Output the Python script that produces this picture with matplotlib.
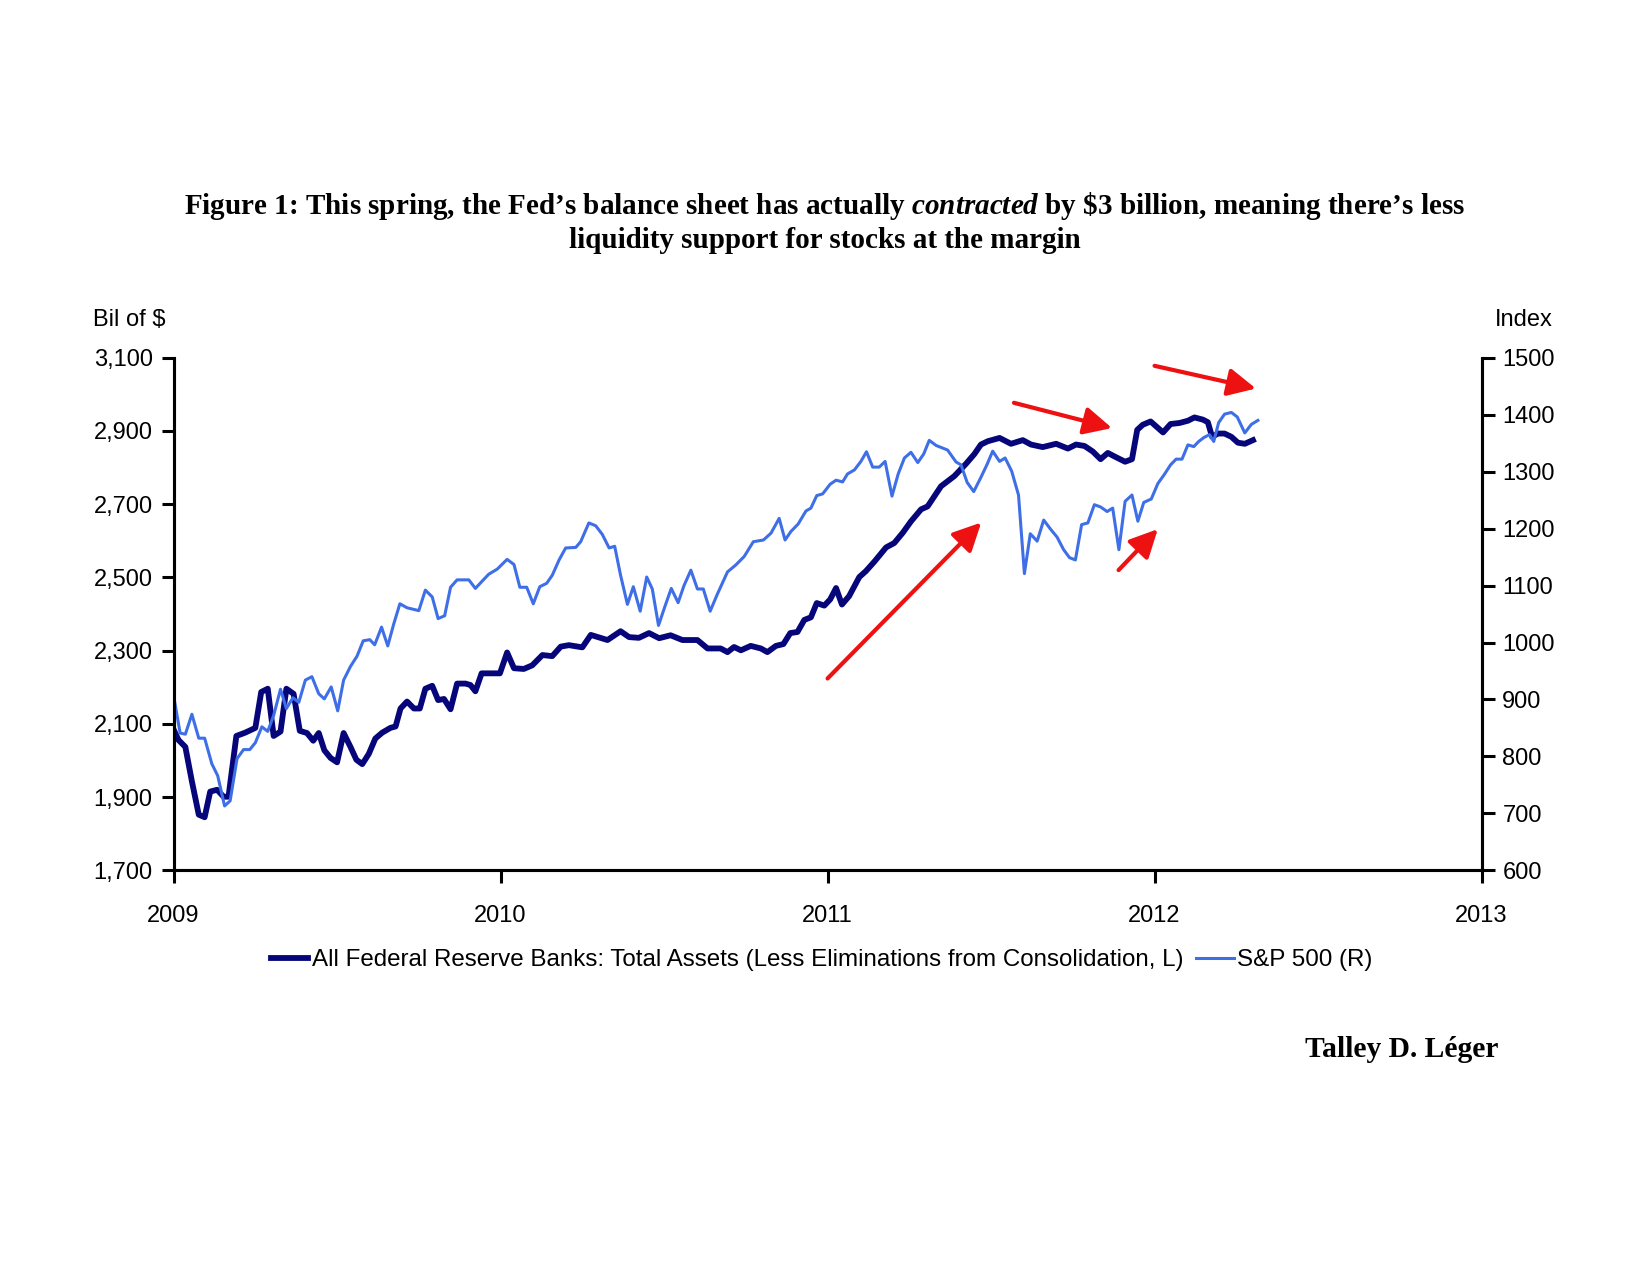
import matplotlib
matplotlib.use("Agg")
import matplotlib.pyplot as plt
from matplotlib.ticker import FuncFormatter

# Fed total assets, bil of $ (x = years after Jan 1 2009)
fed_t = [0.000, 0.015, 0.036, 0.056, 0.077, 0.095, 0.112, 0.133, 0.153, 0.168,
         0.192, 0.219, 0.250, 0.268, 0.288, 0.306, 0.327, 0.345, 0.367, 0.386,
         0.408, 0.427, 0.444, 0.461, 0.480, 0.500, 0.520, 0.541, 0.559, 0.577,
         0.597, 0.617, 0.638, 0.663, 0.679, 0.694, 0.714, 0.735, 0.753, 0.770,
         0.791, 0.809, 0.827, 0.847, 0.867, 0.893, 0.908, 0.923, 0.942, 0.964,
         0.998, 1.020, 1.041, 1.071, 1.097, 1.128, 1.158, 1.184, 1.209, 1.250,
         1.276, 1.327, 1.367, 1.393, 1.423, 1.454, 1.485, 1.520, 1.556, 1.602,
         1.633, 1.673, 1.694, 1.714, 1.735, 1.765, 1.796, 1.816, 1.842, 1.865,
         1.886, 1.908, 1.929, 1.949, 1.967, 1.990, 2.008, 2.026, 2.044, 2.066,
         2.097, 2.117, 2.143, 2.179, 2.204, 2.230, 2.255, 2.286, 2.306, 2.347,
         2.388, 2.423, 2.449, 2.469, 2.490, 2.526, 2.561, 2.597, 2.622, 2.658,
         2.699, 2.735, 2.760, 2.786, 2.811, 2.835, 2.857, 2.883, 2.910, 2.931,
         2.947, 2.964, 2.988, 3.026, 3.049, 3.077, 3.102, 3.122, 3.148, 3.163,
         3.176, 3.194, 3.214, 3.235, 3.255, 3.276, 3.301]
fed_val = [2085, 2056, 2037, 1943, 1852, 1845, 1915, 1920, 1901, 1901,
           2067, 2076, 2089, 2187, 2196, 2067, 2079, 2196, 2182, 2081,
           2075, 2054, 2075, 2028, 2007, 1995, 2075, 2037, 2002, 1990,
           2018, 2060, 2076, 2089, 2093, 2142, 2161, 2142, 2142, 2196,
           2204, 2165, 2168, 2140, 2210, 2210, 2206, 2189, 2238, 2238,
           2238, 2295, 2252, 2250, 2260, 2288, 2285, 2311, 2315, 2309,
           2343, 2329, 2353, 2337, 2335, 2348, 2334, 2342, 2329, 2329,
           2306, 2306, 2296, 2310, 2301, 2313, 2306, 2296, 2313, 2318,
           2348, 2351, 2384, 2391, 2430, 2423, 2440, 2471, 2426, 2449,
           2501, 2517, 2543, 2582, 2594, 2622, 2653, 2686, 2694, 2749,
           2777, 2810, 2837, 2863, 2872, 2881, 2865, 2875, 2863, 2856,
           2865, 2852, 2863, 2859, 2844, 2823, 2840, 2828, 2816, 2823,
           2903, 2917, 2926, 2896, 2919, 2922, 2928, 2937, 2931, 2924,
           2884, 2893, 2893, 2884, 2868, 2865, 2875]

# S&P 500 index
spx_t = [0.000, 0.020, 0.036, 0.056, 0.077, 0.095, 0.117, 0.135, 0.156, 0.173,
         0.194, 0.214, 0.233, 0.250, 0.270, 0.288, 0.306, 0.327, 0.345, 0.365,
         0.383, 0.403, 0.423, 0.444, 0.461, 0.482, 0.502, 0.520, 0.541, 0.561,
         0.580, 0.600, 0.615, 0.636, 0.655, 0.673, 0.692, 0.714, 0.750, 0.770,
         0.791, 0.809, 0.829, 0.847, 0.867, 0.903, 0.923, 0.944, 0.964, 0.990,
         1.020, 1.041, 1.059, 1.080, 1.100, 1.120, 1.141, 1.158, 1.179, 1.199,
         1.230, 1.245, 1.270, 1.291, 1.311, 1.332, 1.349, 1.367, 1.388, 1.406,
         1.427, 1.447, 1.464, 1.483, 1.503, 1.522, 1.543, 1.561, 1.582, 1.602,
         1.620, 1.641, 1.663, 1.694, 1.719, 1.745, 1.773, 1.804, 1.827, 1.852,
         1.870, 1.888, 1.910, 1.934, 1.949, 1.967, 1.985, 2.008, 2.026, 2.046,
         2.061, 2.082, 2.102, 2.119, 2.138, 2.158, 2.176, 2.197, 2.216, 2.235,
         2.255, 2.276, 2.294, 2.311, 2.332, 2.367, 2.393, 2.408, 2.427, 2.447,
         2.469, 2.488, 2.505, 2.526, 2.543, 2.563, 2.584, 2.602, 2.620, 2.641,
         2.661, 2.682, 2.702, 2.722, 2.740, 2.758, 2.777, 2.796, 2.816, 2.835,
         2.855, 2.872, 2.891, 2.910, 2.931, 2.949, 2.967, 2.990, 3.010, 3.031,
         3.049, 3.066, 3.084, 3.102, 3.120, 3.135, 3.151, 3.168, 3.181, 3.196,
         3.214, 3.235, 3.253, 3.276, 3.296, 3.316]
spx_val = [907, 841, 839, 874, 832, 832, 787, 766, 713, 722,
           796, 812, 812, 824, 852, 844, 872, 918, 884, 903,
           895, 934, 940, 910, 901, 922, 880, 934, 958, 976,
           1003, 1005, 996, 1027, 994, 1032, 1068, 1061, 1056, 1092,
           1080, 1042, 1047, 1097, 1110, 1110, 1095, 1108, 1120, 1129,
           1146, 1137, 1097, 1097, 1068, 1098, 1104, 1118, 1145, 1166,
           1167, 1177, 1210, 1205, 1190, 1166, 1169, 1118, 1067, 1098,
           1055, 1115, 1094, 1030, 1064, 1095, 1070, 1100, 1127, 1094,
           1094, 1055, 1085, 1124, 1136, 1151, 1177, 1180, 1192, 1218,
           1180, 1195, 1208, 1231, 1236, 1258, 1261, 1278, 1285, 1282,
           1296, 1303, 1318, 1335, 1308, 1308, 1318, 1257, 1296, 1324,
           1334, 1316, 1331, 1355, 1346, 1338, 1317, 1312, 1281, 1265,
           1290, 1313, 1336, 1318, 1324, 1301, 1259, 1121, 1191, 1178,
           1215, 1199, 1185, 1163, 1149, 1145, 1207, 1210, 1242, 1238,
           1230, 1236, 1163, 1248, 1259, 1213, 1246, 1252, 1279, 1296,
           1312, 1322, 1322, 1347, 1344, 1353, 1360, 1365, 1353, 1386,
           1401, 1404, 1396, 1368, 1383, 1390]

fed_x = [2009 + t for t in fed_t]
spx_x = [2009 + t for t in spx_t]

years = [2009, 2010, 2011, 2012, 2013]
left_ticks = [1700, 1900, 2100, 2300, 2500, 2700, 2900, 3100]
right_ticks = [600, 700, 800, 900, 1000, 1100, 1200, 1300, 1400, 1500]

# red arrows: (start, end) on the left scale
arrows = [((2011.00, 2224), (2011.47, 2650)),
          ((2011.57, 2977), (2011.87, 2908)),
          ((2011.89, 2520), (2012.01, 2632)),
          ((2012.00, 3078), (2012.31, 3016))]

plt.rcParams["font.family"] = ["Liberation Sans", "DejaVu Sans"]
plt.rcParams["mathtext.fontset"] = "custom"
plt.rcParams["mathtext.it"] = "Liberation Serif:italic:bold"
plt.rcParams["mathtext.rm"] = "Liberation Serif:bold"

fig = plt.figure(figsize=(16.5, 12.75), dpi=100)
ax = fig.add_axes([0.1052, 0.3174, 0.7927, 0.402])
ax2 = ax.twinx()

fed_line, = ax.plot(fed_x, fed_val, color="#06067a", lw=4.2, solid_joinstyle="round",
                    label="All Federal Reserve Banks: Total Assets (Less Eliminations from Consolidation, L)")
spx_line, = ax2.plot(spx_x, spx_val, color="#3f6fe6", lw=2.2,
                     label="S&P 500 (R)")

ax.set_xlim(2009, 2013)
ax.set_ylim(1700, 3100)
ax2.set_ylim(600, 1500)
ax.set_xticks(years)
ax.set_xticklabels([str(y) for y in years])
ax.set_yticks(left_ticks)
ax.yaxis.set_major_formatter(FuncFormatter(lambda v, p: "{:,.0f}".format(v)))
ax2.set_yticks(right_ticks)

for a in (ax, ax2):
    a.spines["top"].set_visible(False)
    for s in ("left", "right", "bottom"):
        a.spines[s].set_linewidth(2.2)
    a.tick_params(length=9, width=2.2, labelsize=17, pad=6)
ax.tick_params(axis="x", pad=16)

for start, end in arrows:
    ax.annotate("", xy=end, xytext=start,
                arrowprops=dict(arrowstyle="-|>,head_length=0.85,head_width=0.42",
                                color="#ee1111", lw=3, mutation_scale=20,
                                shrinkA=0, shrinkB=0))

fig.text(0.5, 0.8385, r"Figure 1: This spring, the Fed’s balance sheet has actually $\mathit{contracted}$ by \$3 billion, meaning there’s less",
         ha="center", va="center", fontsize=21, fontweight="bold", family="Liberation Serif")
fig.text(0.5, 0.811, "liquidity support for stocks at the margin",
         ha="center", va="center", fontsize=21, fontweight="bold", family="Liberation Serif")

fig.text(0.0561, 0.749, "Bil of $", ha="left", va="center", fontsize=17)
fig.text(0.941, 0.749, "Index", ha="right", va="center", fontsize=17)

fig.legend(handles=[fed_line, spx_line], loc="center", bbox_to_anchor=(0.498, 0.247),
           ncol=2, frameon=False, fontsize=17.4, handlelength=1.55,
           handletextpad=0.15, columnspacing=0.55)

fig.text(0.908, 0.177, "Talley D. Léger", ha="right", va="center",
         fontsize=21.3, fontweight="bold", family="Liberation Serif")

fig.savefig("out.png", dpi=100)
